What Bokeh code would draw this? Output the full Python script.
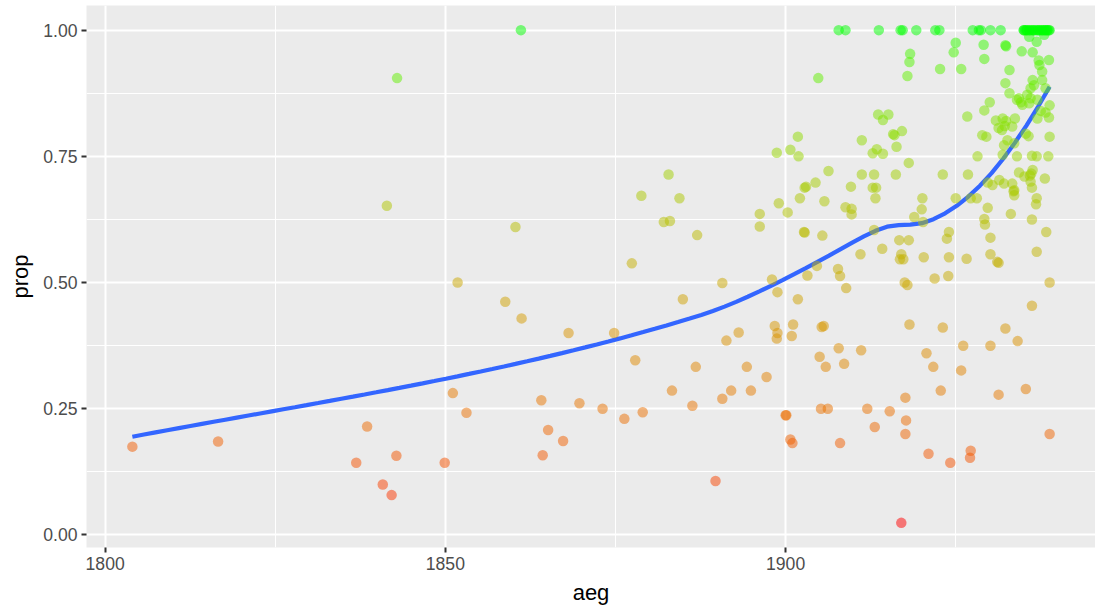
import numpy as np
from bokeh.plotting import figure
from bokeh.models import ColumnDataSource, Range1d, FixedTicker, NumeralTickFormatter, LinearColorMapper
from bokeh.transform import transform
from bokeh.embed import file_html
from bokeh.resources import INLINE

# ---- data: year (aeg) and proportion (prop) per observation ----
aeg = [
    1804.0, 1816.6, 1836.9, 1838.5, 1840.8, 1841.4, 1842.1, 1842.8, 1842.9, 1849.9,
    1851.1, 1851.8, 1853.1, 1858.8, 1860.3, 1861.1, 1861.2, 1864.1, 1864.3, 1865.1,
    1867.3, 1868.1, 1869.7, 1873.1, 1874.8, 1876.3, 1877.4, 1877.9, 1878.8, 1879.0,
    1882.1, 1882.8, 1883.0, 1883.3, 1884.4, 1884.9, 1886.3, 1886.8, 1887.0, 1889.7,
    1890.7, 1890.7, 1891.3, 1892.0, 1893.1, 1894.3, 1894.9, 1896.2, 1896.2, 1897.2,
    1898.0, 1898.4, 1898.7, 1898.7, 1898.8, 1898.8, 1899.0, 1900.0, 1900.1, 1900.3,
    1900.7, 1900.7, 1900.9, 1901.0, 1901.1, 1901.8, 1901.8, 1901.9, 1902.1, 1902.7,
    1902.8, 1902.8, 1903.0, 1903.2, 1904.4, 1904.6, 1904.8, 1905.0, 1905.2, 1905.3,
    1905.4, 1905.6, 1905.7, 1905.9, 1906.2, 1906.3, 1907.7, 1907.8, 1907.8, 1908.0,
    1908.0, 1908.6, 1908.8, 1908.8, 1908.9, 1909.6, 1909.7, 1909.7, 1911.0, 1911.1,
    1911.2, 1911.2, 1912.0, 1912.8, 1912.8, 1913.0, 1913.0, 1913.1, 1913.2, 1913.3,
    1913.4, 1913.6, 1913.7, 1914.2, 1914.3, 1914.3, 1915.1, 1915.3, 1915.8, 1916.0,
    1916.2, 1916.3, 1916.7, 1916.8, 1916.9, 1917.0, 1917.0, 1917.1, 1917.2, 1917.3,
    1917.5, 1917.6, 1917.6, 1917.7, 1917.9, 1917.9, 1918.1, 1918.1, 1918.2, 1918.2,
    1918.3, 1918.9, 1919.2, 1920.0, 1920.1, 1920.2, 1920.3, 1920.7, 1921.0, 1921.7,
    1921.9, 1922.0, 1922.6, 1922.7, 1922.8, 1923.1, 1923.1, 1923.7, 1923.9, 1924.0,
    1924.0, 1924.2, 1924.7, 1925.0, 1925.0, 1925.8, 1925.8, 1926.1, 1926.6, 1926.7,
    1926.8, 1927.1, 1927.2, 1927.2, 1927.5, 1928.1, 1928.2, 1928.4, 1928.7, 1928.9,
    1929.1, 1929.2, 1929.2, 1929.2, 1929.3, 1929.5, 1929.7, 1929.7, 1930.0, 1930.1,
    1930.1, 1930.1, 1930.1, 1930.4, 1930.9, 1931.1, 1931.3, 1931.3, 1931.3, 1931.4,
    1931.6, 1931.8, 1931.9, 1931.9, 1932.1, 1932.1, 1932.2, 1932.3, 1932.3, 1932.3,
    1932.4, 1932.6, 1932.9, 1932.9, 1933.1, 1933.3, 1933.3, 1933.5, 1933.6, 1933.6,
    1933.6, 1933.7, 1934.0, 1934.0, 1934.1, 1934.3, 1934.3, 1934.6, 1934.7, 1934.8,
    1935.0, 1935.1, 1935.3, 1935.3, 1935.5, 1935.7, 1935.8, 1935.8, 1935.9, 1936.0,
    1936.0, 1936.0, 1936.1, 1936.2, 1936.2, 1936.2, 1936.2, 1936.3, 1936.3, 1936.3,
    1936.5, 1936.8, 1936.9, 1936.9, 1936.9, 1936.9, 1937.0, 1937.0, 1937.2, 1937.3,
    1937.5, 1937.7, 1937.7, 1938.0, 1938.1, 1938.2, 1938.2, 1938.3, 1938.6, 1938.7,
    1938.7, 1938.8, 1938.8, 1938.8, 1938.8, 1932.4,
    1935.2, 1935.5, 1935.8, 1936.2, 1936.5, 1937.0, 1937.3, 1937.6, 1937.9, 1938.2,
    1938.5, 1938.8, 1935.0, 1935.4, 1935.9, 1936.4, 1936.8, 1937.2, 1937.7, 1938.1,
    1938.4, 1938.7,
]
prop = [
    0.175, 0.185, 0.143, 0.215, 0.100, 0.652, 0.079, 0.157, 0.905, 0.143,
    0.281, 0.500, 0.242, 0.462, 0.610, 1.000, 0.429, 0.267, 0.158, 0.208,
    0.186, 0.400, 0.261, 0.250, 0.400, 0.230, 0.538, 0.346, 0.672, 0.243,
    0.620, 0.714, 0.622, 0.286, 0.667, 0.467, 0.256, 0.333, 0.594, 0.107,
    0.270, 0.499, 0.385, 0.286, 0.401, 0.333, 0.286, 0.636, 0.611, 0.313,
    0.506, 0.414, 0.757, 0.389, 0.481, 0.400, 0.657, 0.237, 0.237, 0.639,
    0.763, 0.189, 0.394, 0.182, 0.417, 0.789, 0.467, 0.750, 0.667, 0.600,
    0.599, 0.688, 0.690, 0.514, 0.698, 0.533, 0.905, 0.353, 0.250, 0.412,
    0.593, 0.414, 0.661, 0.333, 0.250, 0.721, 0.527, 0.370, 1.000, 0.513,
    0.182, 0.339, 0.649, 1.000, 0.489, 0.690, 0.646, 0.635, 0.556, 0.366,
    0.782, 0.714, 0.250, 0.756, 0.688, 0.714, 0.604, 0.214, 0.667, 0.688,
    0.764, 0.833, 1.000, 0.567, 0.822, 0.755, 0.833, 0.245, 0.794, 0.792,
    0.714, 0.769, 0.584, 0.546, 1.000, 0.556, 0.024, 0.800, 1.000, 0.546,
    0.500, 0.272, 0.200, 0.227, 0.909, 0.495, 0.737, 0.584, 0.937, 0.417,
    0.953, 0.630, 1.000, 0.645, 0.667, 0.620, 0.550, 0.360, 0.161, 0.333,
    0.508, 1.000, 1.000, 0.923, 0.286, 0.714, 0.411, 0.587, 0.513, 0.600,
    0.550, 0.143, 0.956, 0.975, 0.667, 0.923, 0.326, 0.375, 0.547, 0.829,
    0.714, 0.153, 0.167, 0.667, 1.000, 0.667, 0.750, 1.000, 1.000, 0.792,
    0.971, 0.943, 0.841, 0.626, 0.615, 0.789, 0.698, 0.648, 0.857, 1.000,
    0.589, 0.556, 0.375, 0.693, 0.821, 0.541, 0.539, 0.806, 0.278, 0.703,
    1.000, 0.802, 0.825, 0.753, 0.772, 0.696, 0.810, 0.970, 0.895, 0.409,
    0.820, 0.782, 0.921, 0.875, 0.636, 0.809, 0.696, 0.681, 0.776, 0.683,
    0.673, 0.825, 0.862, 0.750, 0.384, 0.865, 0.718, 0.857, 0.958, 0.852,
    1.000, 0.710, 0.289, 0.795, 0.872, 0.790, 0.987, 0.855, 0.712, 0.885,
    0.865, 0.700, 0.716, 0.751, 0.688, 0.625, 0.454, 0.956, 0.901, 0.723,
    0.891, 0.655, 0.977, 0.750, 0.667, 0.561, 0.862, 0.825, 0.940, 0.931,
    0.840, 0.918, 0.901, 0.991, 0.706, 0.885, 0.837, 0.600, 0.750, 0.941,
    0.827, 0.500, 0.851, 0.789, 0.200, 0.968,
    1.000, 1.000, 1.000, 1.000, 1.000, 1.000, 1.000, 1.000, 1.000, 1.000,
    1.000, 1.000, 1.000, 1.000, 1.000, 1.000, 1.000, 1.000, 1.000, 1.000,
    1.000, 1.000,
]

x_ticks = [1800, 1850, 1900]
x_minor = [1825, 1875, 1925]
y_ticks = [0.0, 0.25, 0.5, 0.75, 1.0]
y_minor = [0.125, 0.375, 0.625, 0.875]

x = np.asarray(aeg, dtype=float)
y = np.asarray(prop, dtype=float)


# ---- loess (span 0.75, degree 2) evaluated on a kd-tree of vertices
#      with cubic Hermite interpolation between them ----
def local_fit(xv, yv, x0, q):
    n = len(xv)
    d = np.abs(xv - x0)
    h = np.sort(d)[q - 1]
    w = np.clip(1 - (d / h) ** 3, 0, None) ** 3
    dx = xv - x0
    X = np.column_stack([np.ones(n), dx, dx ** 2])
    W = np.sqrt(w)
    coef, *_ = np.linalg.lstsq(X * W[:, None], yv * W, rcond=None)
    return coef[0], coef[1]


def loess(xv, yv, grid, span=0.75, cell=0.2):
    xv_sorted = np.sort(xv)
    n = len(xv)
    q = int(np.floor(n * span))
    fc = int(np.floor(n * span * cell))
    lo_b, hi_b = xv_sorted[0], xv_sorted[-1]
    mu = 0.005 * (hi_b - lo_b)
    verts = [lo_b - mu, hi_b + mu]

    def split(l, u, vlo, vhi):
        if u - l + 1 <= fc:
            return
        m = (l + u) // 2
        while m > l and xv_sorted[m - 1] == xv_sorted[m]:
            m -= 1
        v = xv_sorted[m]
        if v == vlo or v == vhi:
            return
        verts.append(v)
        split(l, m, vlo, v)
        split(m + 1, u, v, vhi)

    split(0, n - 1, verts[0], verts[1])
    verts = np.array(sorted(set(verts)))
    vals = np.array([local_fit(xv, yv, v, q) for v in verts])
    out = np.empty(len(grid))
    for i, g in enumerate(grid):
        k = min(max(np.searchsorted(verts, g) - 1, 0), len(verts) - 2)
        v0, v1 = verts[k], verts[k + 1]
        hgt = v1 - v0
        u = (g - v0) / hgt
        g0, s0 = vals[k]
        g1, s1 = vals[k + 1]
        out[i] = ((1 - u) ** 2 * (1 + 2 * u) * g0 + u ** 2 * (3 - 2 * u) * g1
                  + (u * (1 - u) ** 2 * s0 - u ** 2 * (1 - u) * s1) * hgt)
    return out


xs = np.linspace(x.min(), x.max(), 80)
ys = loess(x, y, xs)


# ---- red -> green gradient interpolated in CIE Lab ----
def srgb_to_lab(rgb):
    c = np.asarray(rgb, dtype=float)
    c = np.where(c <= 0.04045, c / 12.92, ((c + 0.055) / 1.055) ** 2.4)
    M = np.array([[0.4124564, 0.3575761, 0.1804375],
                  [0.2126729, 0.7151522, 0.0721750],
                  [0.0193339, 0.1191920, 0.9503041]])
    xyz = M @ c / np.array([0.95047, 1.0, 1.08883])
    f = np.where(xyz > 0.008856, np.cbrt(xyz), 7.787 * xyz + 16 / 116)
    return np.array([116 * f[1] - 16, 500 * (f[0] - f[1]), 200 * (f[1] - f[2])])


def lab_to_hex(lab):
    L, a, b = lab
    fy = (L + 16) / 116
    f = np.array([fy + a / 500, fy, fy - b / 200])
    xyz = np.where(f ** 3 > 0.008856, f ** 3, (f - 16 / 116) / 7.787)
    xyz = xyz * np.array([0.95047, 1.0, 1.08883])
    Minv = np.array([[3.2404542, -1.5371385, -0.4985314],
                     [-0.9692660, 1.8760108, 0.0415560],
                     [0.0556434, -0.2040259, 1.0572252]])
    lin = np.clip(Minv @ xyz, 0, 1)
    s = np.where(lin <= 0.0031308, 12.92 * lin, 1.055 * lin ** (1 / 2.4) - 0.055)
    r, g, bb = (np.clip(s, 0, 1) * 255).round().astype(int)
    return "#{:02X}{:02X}{:02X}".format(r, g, bb)


lab_lo = srgb_to_lab([1.0, 0.0, 0.0])
lab_hi = srgb_to_lab([0.0, 1.0, 0.0])
palette = [lab_to_hex(lab_lo + t * (lab_hi - lab_lo)) for t in np.linspace(0, 1, 256)]
mapper = LinearColorMapper(palette=palette, low=y.min(), high=y.max())

# ---- ranges with 5% expansion ----
xpad = 0.05 * (x.max() - x.min())
ypad = 0.05 * (y.max() - y.min())

p = figure(width=1095, height=609, output_backend="svg", toolbar_location=None,
           x_range=Range1d(x.min() - xpad, x.max() + xpad),
           y_range=Range1d(y.min() - ypad, y.max() + ypad),
           min_border_left=86, min_border_right=0, min_border_top=5, min_border_bottom=62)

p.background_fill_color = "#EBEBEB"
p.border_fill_color = "white"
p.outline_line_color = None

p.xaxis.ticker = FixedTicker(ticks=x_ticks, minor_ticks=x_minor)
p.yaxis.ticker = FixedTicker(ticks=y_ticks, minor_ticks=y_minor)
p.xaxis.formatter = NumeralTickFormatter(format="0")
p.yaxis.formatter = NumeralTickFormatter(format="0.00")
p.xaxis.axis_label = "aeg"
p.yaxis.axis_label = "prop"

for ax in (p.xaxis, p.yaxis):
    ax.axis_line_color = None
    ax.major_tick_line_color = "#333333"
    ax.major_tick_line_width = 2
    ax.major_tick_out = 5
    ax.major_tick_in = 0
    ax.minor_tick_line_color = None
    ax.major_label_text_font = "Liberation Sans"
    ax.major_label_text_font_size = "17.6px"
    ax.major_label_text_color = "#4D4D4D"
    ax.major_label_standoff = 4
    ax.axis_label_text_font = "Liberation Sans"
    ax.axis_label_text_font_size = "22px"
    ax.axis_label_text_font_style = "normal"
    ax.axis_label_text_color = "black"
    ax.axis_label_standoff = 7

for g in (p.xgrid, p.ygrid):
    g.grid_line_color = "white"
    g.grid_line_width = 2
    g.minor_grid_line_color = "white"
    g.minor_grid_line_width = 1

# smoothed trend
p.line(xs, ys, line_color="#3366FF", line_width=4.2)

# observations coloured by prop
src = ColumnDataSource(dict(aeg=x, prop=y))
p.scatter("aeg", "prop", source=src, size=10.5,
          fill_color=transform("prop", mapper), fill_alpha=0.5,
          line_color=None)

open("out.html", "w").write(file_html(p, INLINE))
